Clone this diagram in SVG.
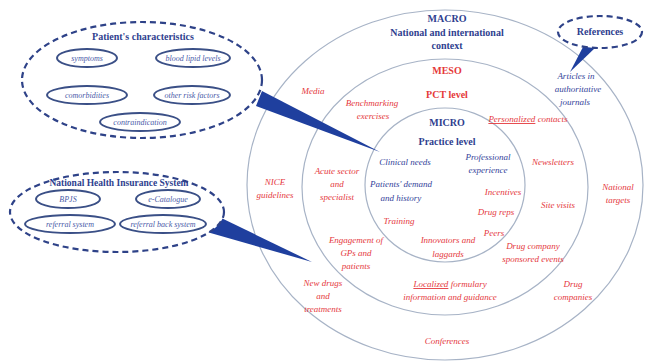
<svg xmlns="http://www.w3.org/2000/svg" width="645" height="362" viewBox="0 0 645 362">
<style>
text{font-family:"Liberation Serif","DejaVu Serif",serif;text-anchor:middle}
.h{font-weight:bold;font-size:10px;fill:#2f3f8f}
.hr{font-weight:bold;font-size:10px;fill:#e53a3a}
.b{font-style:italic;font-size:9px;fill:#34449a}
.r{font-style:italic;font-size:9px;fill:#e5393e}
.ring{fill:none;stroke:#a7b3c6;stroke-width:1.2}
.dash{fill:#fff;stroke:#2e4288;stroke-width:2.2;stroke-dasharray:6,4}
.pill{fill:#fff;stroke:#3a4f86;stroke-width:2}
.ptr{fill:#1f3f9e}
.s{font-style:italic;font-size:8px;fill:#4a5aa8}
</style>
<rect width="645" height="362" fill="#fff"/>
<g id="rings">
<ellipse class="ring" cx="445" cy="185" rx="198" ry="175"/>
<ellipse class="ring" cx="445" cy="187" rx="143" ry="128"/>
<ellipse class="ring" cx="445" cy="185" rx="80" ry="77"/>
</g>
<g id="connectors">
<polygon class="ptr" points="262,91 256,106 380,152"/>
<polygon class="ptr" points="213,214 207,232 312,262"/>
<polygon class="ptr" points="583,47 596,47 570,72"/>
</g>
<g id="macro">
<text class="h" x="447" y="22">MACRO</text>
<text class="h" x="447" y="36">National and international</text>
<text class="h" x="447" y="49">context</text>
</g>
<g id="meso">
<text class="hr" x="447" y="74">MESO</text>
<text class="hr" x="447" y="98">PCT level</text>
</g>
<g id="micro">
<text class="h" x="447" y="126">MICRO</text>
<text class="h" x="447" y="145">Practice level</text>
</g>
<g id="patient">
<ellipse class="dash" cx="142" cy="80" rx="120" ry="58"/>
<text class="h" x="143" y="40">Patient's characteristics</text>
<ellipse class="pill" cx="87" cy="58" rx="30" ry="9"/>
<text class="s" x="87" y="61">symptoms</text>
<ellipse class="pill" cx="193" cy="58" rx="37" ry="9"/>
<text class="s" x="193" y="61">blood lipid levels</text>
<ellipse class="pill" cx="87" cy="95" rx="40" ry="9"/>
<text class="s" x="87" y="98">comorbidities</text>
<ellipse class="pill" cx="192" cy="95" rx="38" ry="9"/>
<text class="s" x="192" y="98">other risk factors</text>
<ellipse class="pill" cx="140" cy="122" rx="40" ry="9"/>
<text class="s" x="140" y="125">contraindication</text>
</g>
<g id="nhis">
<ellipse class="dash" cx="117" cy="212" rx="107" ry="40"/>
<text class="h" x="119" y="186" style="font-size:9.5px">National Health Insurance System</text>
<ellipse class="pill" cx="68" cy="199" rx="32" ry="9"/>
<text class="s" x="68" y="202">BPJS</text>
<ellipse class="pill" cx="168" cy="199" rx="32" ry="9"/>
<text class="s" x="168" y="202">e-Catalogue</text>
<ellipse class="pill" cx="70" cy="224" rx="45" ry="9"/>
<text class="s" x="70" y="227">referral system</text>
<ellipse class="pill" cx="163" cy="224" rx="43" ry="9"/>
<text class="s" x="163" y="227">referral back system</text>
</g>
<g id="references">
<ellipse class="dash" cx="600" cy="32" rx="42" ry="16"/>
<text class="h" x="600" y="35">References</text>
</g>
<g id="labels">
<text class="b" x="576" y="79">Articles in</text>
<text class="b" x="578" y="92">authoritative</text>
<text class="b" x="575" y="105">journals</text>
<text class="r" x="313" y="94">Media</text>
<text class="r" x="372" y="106">Benchmarking</text>
<text class="r" x="373" y="119">exercises</text>
<text class="r" x="528" y="122"><tspan text-decoration="underline">Personalized</tspan> contacts</text>
<text class="b" x="405" y="165">Clinical needs</text>
<text class="b" x="488" y="160">Professional</text>
<text class="b" x="488" y="173">experience</text>
<text class="b" x="401" y="187">Patients' demand</text>
<text class="b" x="401" y="201">and history</text>
<text class="r" x="337" y="174">Acute sector</text>
<text class="r" x="337" y="187">and</text>
<text class="r" x="337" y="200">specialist</text>
<text class="r" x="275" y="185">NICE</text>
<text class="r" x="275" y="198">guidelines</text>
<text class="r" x="553" y="165">Newsletters</text>
<text class="r" x="618" y="190">National</text>
<text class="r" x="618" y="203">targets</text>
<text class="r" x="503" y="195">Incentives</text>
<text class="r" x="496" y="215">Drug reps</text>
<text class="r" x="558" y="208">Site visits</text>
<text class="r" x="399" y="224">Training</text>
<text class="r" x="494" y="236">Peers</text>
<text class="r" x="356" y="243">Engagement of</text>
<text class="r" x="356" y="256">GPs and</text>
<text class="r" x="356" y="269">patients</text>
<text class="r" x="448" y="243">Innovators and</text>
<text class="r" x="448" y="257">laggards</text>
<text class="r" x="533" y="249">Drug company</text>
<text class="r" x="533" y="262">sponsored events</text>
<text class="r" x="323" y="286">New drugs</text>
<text class="r" x="323" y="299">and</text>
<text class="r" x="323" y="312">treatments</text>
<text class="r" x="450" y="287"><tspan text-decoration="underline">Localized</tspan> formulary</text>
<text class="r" x="450" y="300">information and guidance</text>
<text class="r" x="573" y="287">Drug</text>
<text class="r" x="573" y="300">companies</text>
<text class="r" x="447" y="344">Conferences</text>
</g>
</svg>
